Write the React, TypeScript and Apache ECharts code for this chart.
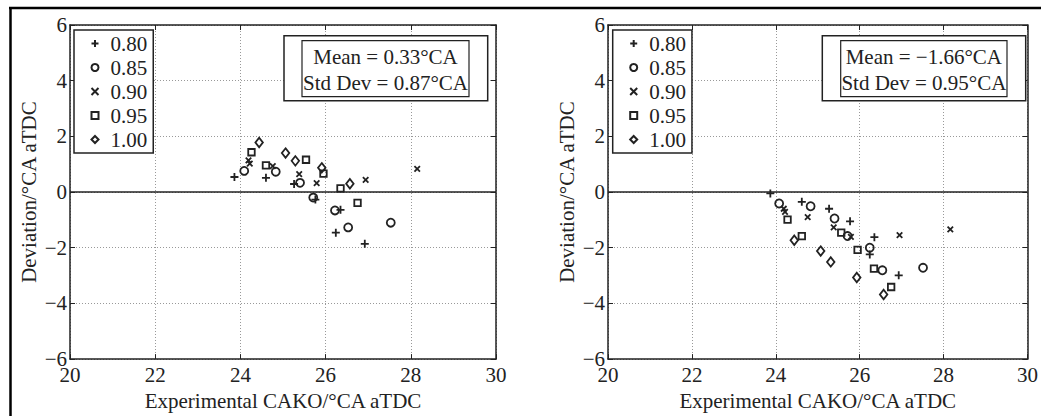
import React, { useEffect, useRef } from "react";
import * as echarts from "echarts";

// ---- data ----
const xTicks = [20, 22, 24, 26, 28, 30];
const yTicks = [-6, -4, -2, 0, 2, 4, 6];
const seriesNames = ["0.80", "0.85", "0.90", "0.95", "1.00"];

// Left panel: [experimental CAKO, deviation]
const left080 = [[23.86, 0.54], [24.6, 0.51], [25.26, 0.29], [25.76, -0.27], [26.35, -0.64], [26.24, -1.46], [26.92, -1.86]];
const left085 = [[24.09, 0.76], [24.83, 0.73], [25.4, 0.33], [25.71, -0.2], [26.22, -0.66], [26.53, -1.27], [27.53, -1.1]];
const left090 = [[24.19, 1.14], [24.22, 1.02], [24.76, 0.93], [25.38, 0.64], [25.79, 0.32], [26.94, 0.44], [28.15, 0.83]];
const left095 = [[24.26, 1.43], [24.6, 0.96], [25.54, 1.16], [25.95, 0.66], [26.35, 0.13], [26.75, -0.39]];
const left100 = [[24.44, 1.78], [25.06, 1.4], [25.29, 1.12], [25.91, 0.87], [26.57, 0.3]];

// Right panel
const right080 = [[23.87, -0.05], [24.62, -0.35], [25.27, -0.6], [25.77, -1.05], [26.35, -1.62], [26.24, -2.24], [26.93, -2.99]];
const right085 = [[24.08, -0.41], [24.83, -0.51], [25.4, -0.95], [25.71, -1.58], [26.24, -2.0], [26.54, -2.81], [27.51, -2.72]];
const right090 = [[24.19, -0.6], [24.22, -0.71], [24.76, -0.9], [25.38, -1.27], [25.79, -1.61], [26.95, -1.55], [28.16, -1.34]];
const right095 = [[24.28, -0.99], [24.62, -1.58], [25.56, -1.46], [25.95, -2.08], [26.34, -2.75], [26.75, -3.41]];
const right100 = [[24.44, -1.73], [25.07, -2.12], [25.31, -2.51], [25.93, -3.07], [26.57, -3.68]];

const leftStats = ["Mean = 0.33°CA", "Std Dev = 0.87°CA"];
const rightStats = ["Mean = \u22121.66°CA", "Std Dev = 0.95°CA"];

// ---- styling ----
const FONT = "'Liberation Serif', 'Times New Roman', serif";
const FS = 21;
const INK = "#222";
const symbols = [
  { symbol: "path://M5,0L5,10M0,5L10,5", size: 8, lw: 1.8 },
  { symbol: "circle", size: 8, lw: 1.8 },
  { symbol: "path://M0,0L10,10M0,10L10,0", size: 5.5, lw: 1.8 },
  { symbol: "rect", size: 6.5, lw: 1.8 },
  { symbol: "diamond", size: [7.5, 9.5], lw: 1.8 },
];

const fmt = (v: number) => (v < 0 ? "\u2212" + Math.abs(v) : String(v));

function makeAxes(gridIndex: number) {
  const common = {
    gridIndex,
    min: xTicks[0],
    max: xTicks[xTicks.length - 1],
    interval: 2,
    type: "value" as const,
    axisLine: { show: true, onZero: false, lineStyle: { color: INK, width: 1.5 } },
    axisTick: { show: true, inside: true, length: 5, lineStyle: { color: INK, width: 1 } },
  };
  const x = [
    {
      ...common,
      position: "bottom",
      axisLabel: { show: true, margin: 5, fontFamily: FONT, fontSize: FS, color: INK },
      splitLine: { show: true, lineStyle: { color: "#999", type: [1, 2], width: 1 } },
      name: "Experimental CAKO/°CA aTDC",
      nameLocation: "middle",
      nameGap: 27,
      nameTextStyle: { fontFamily: FONT, fontSize: FS, color: INK },
    },
    { ...common, position: "top", axisLabel: { show: false }, splitLine: { show: false } },
  ];
  const ycommon = {
    ...common,
    min: yTicks[0],
    max: yTicks[yTicks.length - 1],
  };
  const y = [
    {
      ...ycommon,
      position: "left",
      axisLabel: { show: true, margin: 3, fontFamily: FONT, fontSize: FS, color: INK, formatter: fmt },
      splitLine: { show: true, lineStyle: { color: "#999", type: [1, 2], width: 1 } },
      name: "Deviation/°CA aTDC",
      nameLocation: "middle",
      nameGap: 31,
      nameRotate: 90,
      nameTextStyle: { fontFamily: FONT, fontSize: FS, color: INK },
    },
    { ...ycommon, position: "right", axisLabel: { show: false }, splitLine: { show: false } },
  ];
  return { x, y };
}

function panelSeries(data: number[][][], xi: number, yi: number) {
  const out: any[] = [
    {
      type: "line",
      xAxisIndex: xi,
      yAxisIndex: yi,
      data: [[xTicks[0], 0], [xTicks[xTicks.length - 1], 0]],
      symbol: "none",
      silent: true,
      lineStyle: { color: INK, width: 1.6 },
      z: 1,
    },
  ];
  data.forEach((d, i) => {
    out.push({
      type: "scatter",
      name: seriesNames[i],
      xAxisIndex: xi,
      yAxisIndex: yi,
      data: d,
      symbol: symbols[i].symbol,
      symbolSize: symbols[i].size,
      symbolKeepAspect: true,
      itemStyle: { color: "transparent", borderColor: INK, borderWidth: symbols[i].lw, opacity: 1 },
      z: 3,
    });
  });
  return out;
}

function legendAt(left: number) {
  return {
    data: seriesNames,
    orient: "vertical",
    left,
    top: 30,
    padding: [3, 6, 3, 16.5],
    itemWidth: 7,
    itemHeight: 7,
    itemGap: 3,
    selectedMode: false,
    backgroundColor: "#fff",
    borderColor: INK,
    borderWidth: 1.5,
    borderRadius: 0,
    textStyle: { fontFamily: FONT, fontSize: FS, color: INK, lineHeight: 21, padding: [0, 0, 0, 7] },
  };
}

function statsBox(outer: number[], inner: number[], lines: string[]) {
  const cx = (inner[0] + inner[2]) / 2;
  return [
    {
      type: "rect",
      shape: { x: outer[0], y: outer[1], width: outer[2] - outer[0], height: outer[3] - outer[1] },
      style: { fill: "#fff", stroke: INK, lineWidth: 1.5 },
      z: 10,
    },
    {
      type: "rect",
      shape: { x: inner[0], y: inner[1], width: inner[2] - inner[0], height: inner[3] - inner[1] },
      style: { fill: "#fff", stroke: INK, lineWidth: 1.2 },
      z: 11,
    },
    {
      type: "text",
      x: cx,
      y: 56.7,
      style: { text: lines[0], font: `${FS}px ${FONT}`, fill: INK, align: "center", verticalAlign: "middle" },
      z: 12,
    },
    {
      type: "text",
      x: cx,
      y: 83.3,
      style: { text: lines[1], font: `${FS}px ${FONT}`, fill: INK, align: "center", verticalAlign: "middle" },
      z: 12,
    },
  ];
}

export default function App() {
  const ref = useRef<HTMLDivElement>(null);
  useEffect(() => {
    if (!ref.current) return;
    const chart = echarts.init(ref.current, null, { renderer: "svg" });
    const a0 = makeAxes(0);
    const a1 = makeAxes(1);
    chart.setOption({
      animation: false,
      backgroundColor: "#fff",
      grid: [
        { left: 70, right: 545, top: 25, bottom: 56 },
        { left: 608, right: 7, top: 25, bottom: 56 },
      ],
      xAxis: [...a0.x, ...a1.x],
      yAxis: [...a0.y, ...a1.y],
      legend: [legendAt(74), legendAt(612.7)],
      series: [
        ...panelSeries([left080, left085, left090, left095, left100], 0, 0),
        ...panelSeries([right080, right085, right090, right095, right100], 2, 2),
      ],
      graphic: [
        { type: "line", shape: { x1: 9, y1: 8, x2: 1041, y2: 8 }, style: { stroke: "#000", lineWidth: 2.5 }, z: 20 },
        { type: "line", shape: { x1: 10.5, y1: 7, x2: 10.5, y2: 416 }, style: { stroke: "#000", lineWidth: 2.5 }, z: 20 },
        ...statsBox([284, 35.7, 487.7, 100.7], [302, 40.7, 469, 96.7], leftStats),
        ...statsBox([822.3, 35.7, 1025.7, 100.7], [840.7, 40.7, 1007, 96.7], rightStats),
      ],
    });
    return () => chart.dispose();
  }, []);
  return (
    <div
      ref={ref}
      style={{ position: "fixed", left: 0, top: 0, width: 1041, height: 416 }}
    />
  );
}
